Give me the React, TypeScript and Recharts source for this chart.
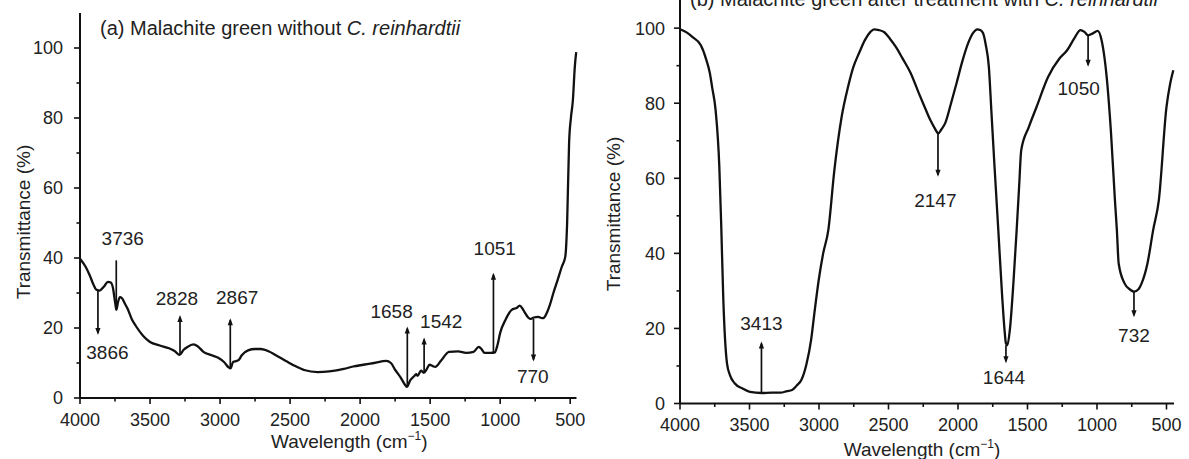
import React from 'react';
import { LineChart, Line, XAxis, YAxis, ReferenceLine, ReferenceDot, Label } from 'recharts';

const FONT = '"Liberation Sans", Arial, Helvetica, sans-serif';
const INK = '#111';
const TXT = '#222';

// ---------- (a) Malachite green without C. reinhardtii ----------
const leftWavenumber = [
  4000, 3960, 3930, 3905, 3885, 3860, 3830, 3800, 3780, 3765, 3750, 3740, 3728, 3715, 3700, 3680,
  3660, 3630, 3600, 3550, 3500, 3430, 3364, 3320, 3290, 3260, 3233, 3190, 3160, 3119, 3060, 3013,
  2970, 2940, 2925, 2907, 2880, 2866, 2845, 2800, 2750, 2711, 2650, 2605, 2530, 2467, 2400, 2303,
  2220, 2116, 2050, 1977, 1900, 1814, 1780, 1749, 1710, 1680, 1667, 1640, 1615, 1600, 1590, 1565,
  1545, 1525, 1504, 1485, 1463, 1420, 1365, 1300, 1243, 1190, 1153, 1130, 1112, 1070, 1039, 1020,
  1000, 960, 918, 880, 861, 840, 827, 800, 786, 760, 729, 700, 688, 665, 645, 620, 590, 560, 535,
  522, 508, 495, 481, 467, 457,
];
const leftTransmittance = [
  39.8, 37.5, 35, 32.5, 31, 30.7, 31.8, 33.2, 33, 31.5, 27.5, 25.2, 27.5, 28.8, 28.5, 27,
  25.5, 22.5, 20.5, 17.8, 16, 15, 14.2, 13.3, 12.3, 13.8, 14.6, 15.3, 14.8, 13.2, 12.2, 11.5,
  10.2, 8.8, 8.5, 10.3, 10.6, 10.9, 12.2, 13.6, 14, 14, 13.3, 12.3, 10.6, 9.2, 8, 7.4,
  7.6, 8.3, 9, 9.5, 10, 10.6, 10, 8, 5.8, 3.8, 3.2, 5.2, 6.2, 6.8, 6.3, 7.8,
  7.2, 8.2, 9.5, 9.2, 8.9, 10.8, 13.2, 13.3, 12.9, 13.2, 14.6, 13.8, 12.9, 12.9, 13, 15,
  18.6, 22.5, 25.2, 25.8, 26.4, 25.5, 24.6, 23, 22.6, 23, 23.2, 22.8, 22.9, 24.5, 26.6, 30, 33.7, 37.5, 40.4,
  49.9, 72.8, 80, 85, 94.7, 98.8,
];

const leftPeakLabels = ['3866', '3736', '2828', '2867', '1658', '1542', '1051', '770'];
const leftPeakX = [3872, 3741, 3286, 2927, 1663, 1543, 1048, 762];
const leftPeakFrom = [31, 25.1, 12.5, 8.5, 3.2, 7.2, 13, 22.6];
const leftPeakTo = [18, 39.9, 23.7, 22.8, 20.4, 17.3, 35.8, 10.4];
const leftPeakHead = [true, false, true, true, true, true, true, true];
const leftLabelX = [3804, 3695, 3308, 2878, 1775, 1421, 1039, 767];
const leftLabelY = [13.2, 45.6, 28.5, 28.9, 24.7, 21.8, 42.8, 6.1];

// ---------- (b) Malachite green after treatment with C. reinhardtii ----------
const rightWavenumber = [
  4000, 3950, 3909, 3851, 3810, 3785, 3769, 3744, 3717, 3703, 3689, 3662, 3640, 3607, 3550, 3497,
  3414, 3340, 3277, 3230, 3194, 3160, 3126, 3090, 3057, 3030, 3002, 2970, 2933, 2890, 2837, 2790,
  2753, 2710, 2670, 2630, 2604, 2570, 2530, 2490, 2447, 2400, 2340, 2282, 2240, 2199, 2170, 2142,
  2120, 2092, 2050, 2010, 1970, 1927, 1890, 1861, 1840, 1820, 1800, 1778, 1760, 1737, 1710, 1682,
  1665, 1655, 1645, 1627, 1600, 1578, 1560, 1545, 1490, 1435, 1352, 1270, 1215, 1160, 1119, 1090,
  1064, 1030, 995, 967, 926, 899, 871, 857, 844, 802, 760, 734, 700, 679, 637, 596, 555, 500, 473, 451,
];
const rightTransmittance = [
  99.7, 98.8, 97.6, 95.5, 91.5, 88, 84.3, 78.2, 63, 47, 28.4, 10.7, 7.5, 5.4, 4, 3.1,
  2.8, 2.9, 2.9, 3.3, 3.6, 4.8, 6.3, 10.5, 16.9, 25, 32.9, 40, 46.2, 62, 76.4, 84.5,
  89.6, 93.5, 96.8, 99, 99.7, 99.5, 98.9, 97.2, 95, 92, 88, 82.7, 79, 75.5, 73.5, 72,
  73, 74.7, 80, 85.4, 91, 96, 98.8, 99.7, 99.5, 98.7, 95.5, 89.7, 78, 63, 46.2, 28.4,
  19.5, 16, 15.5, 19.6, 32.9, 46.2, 58, 67.5, 73.7, 79, 87, 91.9, 94.1, 97.5, 99.5, 99,
  98.1, 98.6, 99.3, 96.8, 85.3, 72, 54.2, 46.2, 37.3, 32, 30.3, 29.8, 30.5, 32, 37.3, 46.2, 54.2, 79, 85.3, 88.8,
];

const rightPeakLabels = ['3413', '2147', '1050', '1644', '732'];
const rightPeakX = [3414, 2144, 1064, 1655, 734];
const rightPeakFrom = [3, 72, 98, 15.5, 29.8];
const rightPeakTo = [16.5, 60.4, 89.7, 10.7, 23];
const rightLabelX = [3414, 2163, 1132, 1669, 734];
const rightLabelY = [21.4, 54.2, 83.9, 7.1, 18.2];

// ---------- axes ----------
const xTicks = [4000, 3750, 3500, 3250, 3000, 2750, 2500, 2250, 2000, 1750, 1500, 1250, 1000, 750, 500];
const yTicks = [0, 10, 20, 30, 40, 50, 60, 70, 80, 90, 100];

const TICK_SIZE = 6;
const TICK_MARGIN = 2;

const makeXTick = (labelOffset: number) => (props: any) => {
  const { x, y, payload } = props;
  const v = payload.value;
  const major = v % 500 === 0;
  const axisY = y - TICK_SIZE - TICK_MARGIN;
  return (
    <g>
      <line x1={x} x2={x} y1={axisY} y2={axisY + (major ? 6 : 3.5)} stroke={INK} strokeWidth={1.6} />
      {major && (
        <text x={x} y={axisY + labelOffset} textAnchor="middle" fontSize={18} fill={TXT} fontFamily={FONT}>
          {v}
        </text>
      )}
    </g>
  );
};

const makeYTick = (gap: number) => (props: any) => {
  const { x, y, payload } = props;
  const v = payload.value;
  const major = v % 20 === 0;
  const axisX = x + TICK_SIZE + TICK_MARGIN;
  return (
    <g>
      <line x1={axisX} x2={axisX - (major ? 6 : 3.5)} y1={y} y2={y} stroke={INK} strokeWidth={1.6} />
      {major && (
        <text x={axisX - gap} y={y} dy="0.36em" textAnchor="end" fontSize={18} fill={TXT} fontFamily={FONT}>
          {v}
        </text>
      )}
    </g>
  );
};

const arrowShape = (withHead: boolean) => (p: any) => {
  const { x1, y1, x2, y2 } = p;
  const dir = y2 > y1 ? 1 : -1;
  return (
    <g>
      <line x1={x1} y1={y1} x2={x2} y2={y2 - dir * 2} stroke={INK} strokeWidth={1.7} />
      {withHead && (
        <polygon points={`${x2 - 2.6},${y2 - dir * 7} ${x2 + 2.6},${y2 - dir * 7} ${x2},${y2}`} fill={INK} />
      )}
    </g>
  );
};

const xLabel = (dx: number, dy: number) => (p: any) => {
  const vb = p.viewBox || {};
  const cx = vb.x + vb.width / 2 + dx;
  return (
    <text x={cx} y={vb.y + dy} textAnchor="middle" fontSize={19} fill={TXT} fontFamily={FONT}>
      Wavelength (cm
      <tspan dy={-8} fontSize={12}>−1</tspan>
      <tspan dy={8}>)</tspan>
    </text>
  );
};

const yLabel = (cx: number, cy: number) => () => (
  <text
    x={cx}
    y={cy}
    transform={`rotate(-90 ${cx} ${cy})`}
    textAnchor="middle"
    dy="0.36em"
    fontSize={19}
    fill={TXT}
    fontFamily={FONT}
  >
    Transmittance (%)
  </text>
);

const leftData = leftWavenumber.map((w, i) => ({ w, t: leftTransmittance[i] }));
const rightData = rightWavenumber.map((w, i) => ({ w, t: rightTransmittance[i] }));

export default function App() {
  return (
    <div style={{ position: 'absolute', left: 0, top: 0, width: 1189, height: 459, background: '#fff', overflow: 'hidden' }}>
      <div style={{ position: 'absolute', left: 0, top: 0 }}>
        <LineChart width={595} height={459} data={leftData} margin={{ top: 13, right: 18.5, bottom: 0, left: 0 }}>
          <XAxis
            dataKey="w"
            type="number"
            reversed
            domain={[455, 4000]}
            ticks={xTicks}
            interval={0}
            tickSize={TICK_SIZE}
            tickMargin={TICK_MARGIN}
            tickLine={false}
            tick={makeXTick(28)}
            axisLine={{ stroke: INK, strokeWidth: 2 }}
            height={61}
          >
            <Label content={xLabel(21, 50)} />
          </XAxis>
          <YAxis
            type="number"
            domain={[0, 110]}
            ticks={yTicks}
            interval={0}
            tickSize={TICK_SIZE}
            tickMargin={TICK_MARGIN}
            tickLine={false}
            tick={makeYTick(17)}
            axisLine={{ stroke: INK, strokeWidth: 2 }}
            width={80}
          >
            <Label content={yLabel(23, 222)} />
          </YAxis>
          <Line dataKey="t" type="monotone" stroke={INK} strokeWidth={2.3} dot={false} isAnimationActive={false} />
          {leftPeakLabels.map((lab, i) => (
            <ReferenceLine
              key={'la' + lab}
              segment={[{ x: leftPeakX[i], y: leftPeakFrom[i] }, { x: leftPeakX[i], y: leftPeakTo[i] }]}
              stroke={INK}
              shape={arrowShape(leftPeakHead[i])}
            />
          ))}
          {leftPeakLabels.map((lab, i) => (
            <ReferenceDot
              key={'ll' + lab}
              x={leftLabelX[i]}
              y={leftLabelY[i]}
              r={0}
              fill="none"
              stroke="none"
              label={{ value: lab, position: 'center', fontSize: 19, fill: TXT, fontFamily: FONT }}
            />
          ))}
        </LineChart>
      </div>

      <div style={{ position: 'absolute', left: 595, top: 0 }}>
        <LineChart width={594} height={459} data={rightData} margin={{ top: 0, right: 15, bottom: 0, left: 0 }}>
          <XAxis
            dataKey="w"
            type="number"
            reversed
            domain={[446, 4000]}
            ticks={xTicks}
            interval={0}
            tickSize={TICK_SIZE}
            tickMargin={TICK_MARGIN}
            tickLine={false}
            tick={makeXTick(27)}
            axisLine={{ stroke: INK, strokeWidth: 2 }}
            height={55.5}
          >
            <Label content={xLabel(-5, 52)} />
          </XAxis>
          <YAxis
            type="number"
            domain={[0, 107.5]}
            ticks={yTicks}
            interval={0}
            tickSize={TICK_SIZE}
            tickMargin={TICK_MARGIN}
            tickLine={false}
            tick={makeYTick(15)}
            axisLine={{ stroke: INK, strokeWidth: 2 }}
            width={85}
          >
            <Label content={yLabel(18, 214)} />
          </YAxis>
          <Line dataKey="t" type="monotone" stroke={INK} strokeWidth={2.3} dot={false} isAnimationActive={false} />
          {rightPeakLabels.map((lab, i) => (
            <ReferenceLine
              key={'ra' + lab}
              segment={[{ x: rightPeakX[i], y: rightPeakFrom[i] }, { x: rightPeakX[i], y: rightPeakTo[i] }]}
              stroke={INK}
              shape={arrowShape(true)}
            />
          ))}
          {rightPeakLabels.map((lab, i) => (
            <ReferenceDot
              key={'rl' + lab}
              x={rightLabelX[i]}
              y={rightLabelY[i]}
              r={0}
              fill="none"
              stroke="none"
              label={{ value: lab, position: 'center', fontSize: 19, fill: TXT, fontFamily: FONT }}
            />
          ))}
        </LineChart>
      </div>

      <svg width={1189} height={459} style={{ position: 'absolute', left: 0, top: 0, pointerEvents: 'none' }}>
        <text x={100} y={35} fontSize={20} fill={TXT} fontFamily={FONT}>
          (a) Malachite green without <tspan fontStyle="italic">C. reinhardtii</tspan>
        </text>
        <text x={690} y={6} fontSize={20} fill={TXT} fontFamily={FONT}>
          (b) Malachite green after treatment with <tspan fontStyle="italic">C. reinhardtii</tspan>
        </text>
      </svg>
    </div>
  );
}
